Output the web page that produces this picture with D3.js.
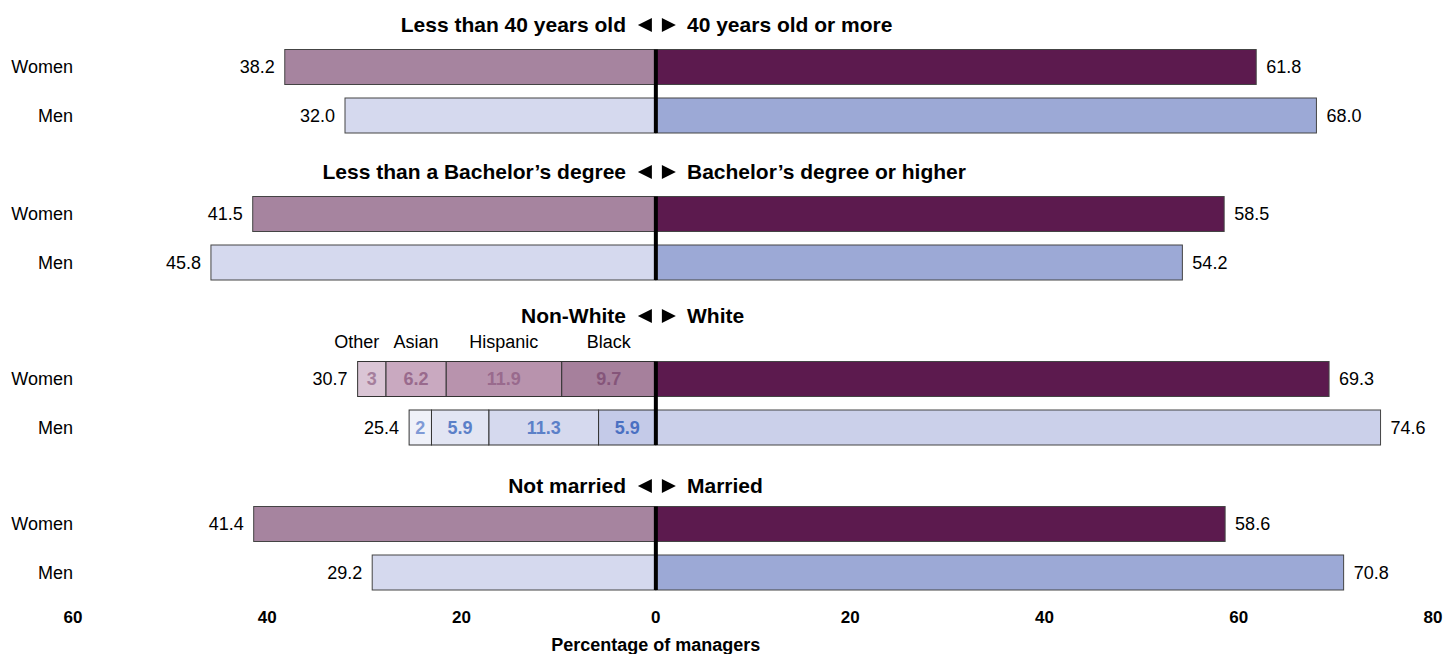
<!DOCTYPE html>
<html>
<head>
<meta charset="utf-8">
<script src="https://cdn.jsdelivr.net/npm/d3@7"></script>
<style>
  body { margin: 0; background: #fff; }
  text { font-family: "Liberation Sans", Arial, sans-serif; }
</style>
</head>
<body>
<svg id="chart" width="1445" height="654"></svg>
<script>
(function() {
"use strict";

// data
var groupsLeft = ["Less than 40 years old", "Less than a Bachelor\u2019s degree", "Non-White", "Not married"];
var groupsRight = ["40 years old or more", "Bachelor\u2019s degree or higher", "White", "Married"];
var sexes = ["Women", "Men"];
var womenLeft = [38.2, 41.5, 30.7, 41.4];
var womenRight = [61.8, 58.5, 69.3, 58.6];
var menLeft = [32.0, 45.8, 25.4, 29.2];
var menRight = [68.0, 54.2, 74.6, 70.8];

// race breakdown of the non-white side, from the centre outwards
var raceNames = ["Black", "Hispanic", "Asian", "Other"];
var raceWomen = [9.7, 11.9, 6.2, 2.9];
var raceWomenLabels = ["9.7", "11.9", "6.2", "3"];
var raceMen = [5.9, 11.3, 5.9, 2.3];
var raceMenLabels = ["5.9", "11.3", "5.9", "2"];

var ticks = [-60, -40, -20, 0, 20, 40, 60, 80];
var axisTitle = "Percentage of managers";

var colors = {
  womenLeft: "#a6849f", womenRight: "#5c1a4e",
  menLeft: "#d5d9ee", menRight: "#9ca9d6", menWhite: "#cbd0ea",
  raceWomen: ["#a6809c", "#b893ad", "#c9a9c0", "#dac5d5"],
  raceMen: ["#c4cae8", "#d5d9ee", "#e2e5f3", "#eff1f9"],
  raceWomenText: ["#85557a", "#996a8d", "#996a8d", "#a57e9c"],
  raceMenText: ["#4a70c2", "#5b80c8", "#5b80c8", "#7f9ad6"]
};

var svg = d3.select("#chart");
var x = d3.scaleLinear().domain([-60, 80]).range([73, 1433]);
var x0 = x(0);

var titleY = [25, 172, 316, 486];
var womenY = [67, 214, 379, 524];
var rowGap = 48.5;
var barH = 35;

groupsLeft.forEach(function(name, gi) {
  var g = svg.append("g");
  var isRace = gi === 2;

  // title with the two arrow heads
  var ty = titleY[gi];
  g.append("text").attr("x", 626).attr("y", ty + 7)
    .attr("text-anchor", "end").attr("font-size", 21).attr("font-weight", "bold")
    .text(name);
  g.append("text").attr("x", 687).attr("y", ty + 7)
    .attr("text-anchor", "start").attr("font-size", 21).attr("font-weight", "bold")
    .text(groupsRight[gi]);
  g.append("path")
    .attr("d", "M" + (x0 - 18) + "," + ty + "l14,-7v14z")
    .attr("fill", "#000");
  g.append("path")
    .attr("d", "M" + (x0 + 20) + "," + ty + "l-14,-7v14z")
    .attr("fill", "#000");

  var rows = [
    {sex: sexes[0], left: womenLeft[gi], right: womenRight[gi], lc: colors.womenLeft, rc: colors.womenRight},
    {sex: sexes[1], left: menLeft[gi], right: menRight[gi], lc: colors.menLeft, rc: isRace ? colors.menWhite : colors.menRight}
  ];

  rows.forEach(function(r, ri) {
    var cy = womenY[gi] + ri * rowGap;
    var top = cy - barH / 2;

    g.append("text").attr("x", 73).attr("y", cy + 6)
      .attr("text-anchor", "end").attr("font-size", 18).text(r.sex);

    if (!isRace) {
      g.append("rect").attr("x", x(-r.left)).attr("y", top)
        .attr("width", x0 - x(-r.left)).attr("height", barH)
        .attr("fill", r.lc).attr("stroke", "#444").attr("stroke-width", 1);
    } else {
      var vals = ri === 0 ? raceWomen : raceMen;
      var labs = ri === 0 ? raceWomenLabels : raceMenLabels;
      var fills = ri === 0 ? colors.raceWomen : colors.raceMen;
      var inks = ri === 0 ? colors.raceWomenText : colors.raceMenText;
      var acc = 0;
      vals.forEach(function(v, si) {
        var a = acc, b = acc + v;
        acc = b;
        g.append("rect").attr("x", x(-b)).attr("y", top)
          .attr("width", x(-a) - x(-b)).attr("height", barH)
          .attr("fill", fills[si]).attr("stroke", "#333").attr("stroke-width", 1);
        g.append("text").attr("x", (x(-a) + x(-b)) / 2).attr("y", cy + 6)
          .attr("text-anchor", "middle").attr("font-size", 18).attr("font-weight", "bold")
          .attr("fill", inks[si])
          .text(labs[si]);
        if (ri === 0) {
          var lx = (x(-a) + x(-b)) / 2 + (si === 3 ? -15 : 0);
          g.append("text").attr("x", lx).attr("y", titleY[gi] + 32)
            .attr("text-anchor", "middle").attr("font-size", 18)
            .text(raceNames[si]);
        }
      });
    }

    g.append("rect").attr("x", x0).attr("y", top)
      .attr("width", x(r.right) - x0).attr("height", barH)
      .attr("fill", r.rc).attr("stroke", "#444").attr("stroke-width", 1);

    g.append("text").attr("x", x(-r.left) - 10).attr("y", cy + 6)
      .attr("text-anchor", "end").attr("font-size", 18).text(r.left.toFixed(1));
    g.append("text").attr("x", x(r.right) + 10).attr("y", cy + 6)
      .attr("text-anchor", "start").attr("font-size", 18).text(r.right.toFixed(1));
  });

  // centre line
  g.append("line").attr("x1", x0).attr("x2", x0)
    .attr("y1", womenY[gi] - barH / 2).attr("y2", womenY[gi] + rowGap + barH / 2)
    .attr("stroke", "#000").attr("stroke-width", 4);
});

// axis labels
svg.append("g").selectAll("text").data(ticks).enter().append("text")
  .attr("x", function(d) { return x(d); })
  .attr("y", 623)
  .attr("text-anchor", "middle").attr("font-size", 17).attr("font-weight", "bold")
  .text(function(d) { return Math.abs(d); });

svg.append("text").attr("x", x0).attr("y", 651)
  .attr("text-anchor", "middle").attr("font-size", 18).attr("font-weight", "bold")
  .text(axisTitle);

})();
</script>
</body>
</html>
